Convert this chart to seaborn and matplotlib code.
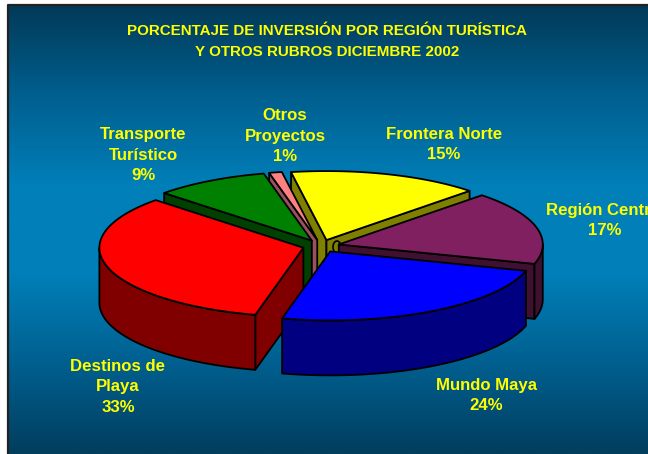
import numpy as np
import matplotlib
matplotlib.use("Agg")
import matplotlib.pyplot as plt
import seaborn as sns
from matplotlib.patches import Ellipse, Polygon

# slices, clockwise starting from the top
labels = ["Frontera Norte", "Región Central", "Mundo Maya", "Destinos de\nPlaya",
          "Transporte\nTurístico", "Otros\nProyectos"]
values = [15, 17, 24, 33, 9, 1]
top_colors = ["#ffff00", "#802060", "#0000ff", "#ff0000", "#008000", "#ff8080"]
side_colors = ["#808000", "#401030", "#000080", "#800000", "#004000", "#9a5060"]
label_pos = [(444, 144.5), (605, 220.5), (486, 395.5), (118, 387), (143, 155), (285, 136)]
title = "PORCENTAJE DE INVERSIÓN POR REGIÓN TURÍSTICA\nY OTROS RUBROS DICIEMBRE 2002"

bg_colors = ["#023a58", "#005f8f", "#007fb8", "#007fb8", "#005f8f", "#023e5e"]

# pie geometry, in pixels of the 648x454 figure
CX, CY = 321, 246
RX, RY = 204, 69
DEPTH = 55
EXPLODE = 0.09
START = 100.0

sns.set_theme(style="white")
plt.rcParams["font.family"] = ["Liberation Sans", "DejaVu Sans"]

fig = plt.figure(figsize=(6.48, 4.54), dpi=100)
ax = fig.add_axes([0, 0, 1, 1])

# slide background
cmap = sns.blend_palette(bg_colors, as_cmap=True)
ax.imshow(np.linspace(0, 1, 256).reshape(-1, 1), cmap=cmap, aspect="auto",
          extent=[8, 648, 454, 5], zorder=0)
ax.plot([8, 8, 648], [454, 5, 5], color="#222222", lw=1.6, zorder=1)
ax.set_xlim(0, 648)
ax.set_ylim(454, 0)
ax.axis("off")


def rim(ax0, ay0, t):
    t = np.radians(t)
    return ax0 + RX * np.cos(t), ay0 - RY * np.sin(t)


def face(pts, color, z):
    ax.add_patch(Polygon(pts, closed=True, facecolor=color, edgecolor="black",
                         lw=1.3, joinstyle="round", zorder=z))


# work out the angle range of every slice
spans = np.array(values) / sum(values) * 360
hi = START - np.concatenate([[0], np.cumsum(spans)[:-1]])
lo = hi - spans

# painter's order, back slices first
draw_order = [0, 5, 4, 1, 3, 2]
for z, i in enumerate(draw_order):
    base = 10 + z * 5
    mid = np.radians((hi[i] + lo[i]) / 2)
    ox = CX + EXPLODE * RX * np.cos(mid)
    oy = CY - EXPLODE * RY * np.sin(mid)

    # cut walls that face the viewer
    for t, show in ((hi[i], np.cos(np.radians(hi[i])) < 0), (lo[i], np.cos(np.radians(lo[i])) > 0)):
        if show:
            px, py = rim(ox, oy, t)
            face([(ox, oy), (px, py), (px, py + DEPTH), (ox, oy + DEPTH)], side_colors[i], base)

    # outer wall, front half of the ellipse only
    a, b = max(lo[i], -180), min(hi[i], 0)
    if a < b:
        ts = np.linspace(a, b, 60)
        xs, ys = rim(ox, oy, ts)
        face(list(zip(xs, ys)) + list(zip(xs[::-1], ys[::-1] + DEPTH)), side_colors[i], base + 1)

    # top face
    ts = np.linspace(lo[i], hi[i], 80)
    xs, ys = rim(ox, oy, ts)
    face([(ox, oy)] + list(zip(xs, ys)), top_colors[i], base + 2)

    # little hub left of the maroon slice
    if i == 1:
        ax.add_patch(Ellipse((337, 247), 8, 12, facecolor=side_colors[0],
                             edgecolor="black", lw=1.2, zorder=base - 1))

for lab, val, (x, y) in zip(labels, values, label_pos):
    ax.text(x, y, f"{lab}\n{val}%", color="#ffff00", fontsize=12.1, fontweight="bold",
            ha="center", va="center", linespacing=1.43, zorder=60)

ax.text(327, 41.5, title, color="#ffff00", fontsize=10.9, fontweight="bold",
        ha="center", va="center", linespacing=1.58, zorder=60)

fig.savefig("out.png", dpi=100)
